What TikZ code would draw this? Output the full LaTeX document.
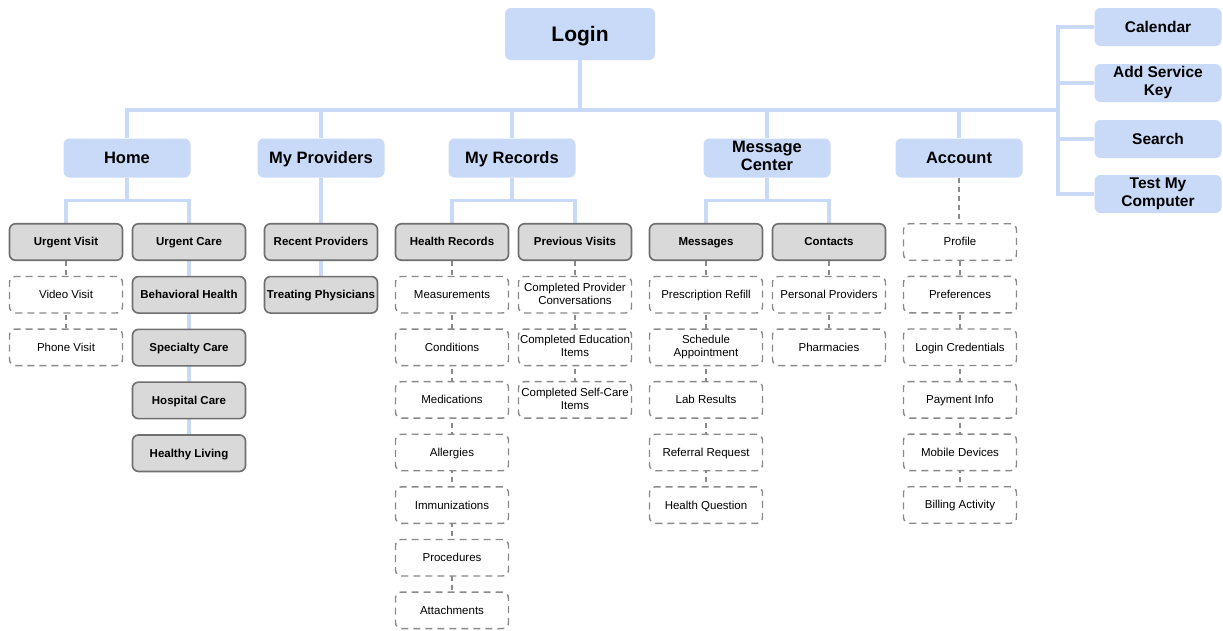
\documentclass[tikz,border=0pt]{standalone}
\usepackage{fontspec}
\setmainfont{Liberation Sans}
\usetikzlibrary{positioning, backgrounds, calc}
\definecolor{navblue}{HTML}{C9DAF8}
\definecolor{boxgray}{HTML}{D9D9D9}
\definecolor{edgegray}{HTML}{6F6F6F}
\definecolor{dashgray}{HTML}{8A8A8A}
% strut that keeps capitals centred in the boxes
\newcommand{\boxstrut}{\vrule width 0pt height 0.9em depth 0.22em\relax}
\tikzset{
    centred/.style={execute at begin node=\boxstrut, execute at end node=\boxstrut},
    mainbox/.style={rectangle, rounded corners=6pt, fill=navblue, draw=none, minimum height=39pt, minimum width=127pt, inner sep=1pt, align=center, centred, font=\bfseries\fontsize{16.5}{18}\selectfont},
    sidebox/.style={mainbox, minimum height=38pt, font=\bfseries\fontsize{15.5}{18}\selectfont},
    pagebox/.style={rectangle, rounded corners=6pt, fill=boxgray, draw=edgegray, line width=1.6pt, minimum height=36.5pt, minimum width=113pt, inner sep=1pt, align=center, centred, font=\bfseries\fontsize{11.5}{13}\selectfont},
    subbox/.style={rectangle, rounded corners=6pt, fill=white, draw=dashgray, line width=1.4pt, dash pattern=on 7pt off 5pt, minimum height=36.5pt, minimum width=113pt, inner sep=1pt, align=center, centred, font=\fontsize{11.5}{13}\selectfont},
    link/.style={draw=navblue, line width=3.5pt},
    sublink/.style={draw=dashgray, line width=1.3pt, dash pattern=on 5pt off 4pt},
}

\begin{document}
\begin{tikzpicture}[x=1pt, y=-1pt, node distance=14.7pt]
    \useasboundingbox (0,0) rectangle (1223,630);

    % top level
    \node[mainbox, minimum width=150pt, minimum height=52pt, font=\bfseries\fontsize{21}{24}\selectfont] (login) at (580,34) {Login};
    \coordinate (rail) at (1058,110);

    \node[mainbox] (home) at (127,158) {Home};
    \node[mainbox] (providers) at (321,158) {My Providers};
    \node[mainbox] (records) at (512,158) {My Records};
    \node[mainbox] (msgcenter) at (767,158) {Message\\Center};
    \node[mainbox] (account) at (959,158) {Account};

    \node[sidebox] (calendar) at (1158,27) {Calendar};
    \node[sidebox] (servicekey) at (1158,83) {Add Service\\Key};
    \node[sidebox] (search) at (1158,139) {Search};
    \node[sidebox] (testpc) at (1158,194) {Test My\\Computer};

    % Home
    \node[pagebox] (urgentvisit) at (66,242) {Urgent Visit};
    \node[subbox, below=of urgentvisit] (videovisit) {Video Visit};
    \node[subbox, below=of videovisit] (phonevisit) {Phone Visit};
    \node[pagebox] (urgentcare) at (189,242) {Urgent Care};
    \node[pagebox, below=of urgentcare] (behavioral) {Behavioral Health};
    \node[pagebox, below=of behavioral] (specialty) {Specialty Care};
    \node[pagebox, below=of specialty] (hospital) {Hospital Care};
    \node[pagebox, below=of hospital] (healthy) {Healthy Living};

    % My Providers
    \node[pagebox] (recentprov) at (321,242) {Recent Providers};
    \node[pagebox, below=of recentprov] (treating) {Treating Physicians};

    % My Records
    \node[pagebox] (healthrec) at (452,242) {Health Records};
    \node[subbox, below=of healthrec] (measure) {Measurements};
    \node[subbox, below=of measure] (conditions) {Conditions};
    \node[subbox, below=of conditions] (medications) {Medications};
    \node[subbox, below=of medications] (allergies) {Allergies};
    \node[subbox, below=of allergies] (immun) {Immunizations};
    \node[subbox, below=of immun] (procedures) {Procedures};
    \node[subbox, below=of procedures] (attach) {Attachments};
    \node[pagebox] (prevvisits) at (575,242) {Previous Visits};
    \node[subbox, below=of prevvisits] (provconv) {Completed Provider\\Conversations};
    \node[subbox, below=of provconv] (eduitems) {Completed Education\\Items};
    \node[subbox, below=of eduitems] (selfcare) {Completed Self-Care\\Items};

    % Message Center
    \node[pagebox] (messages) at (706,242) {Messages};
    \node[subbox, below=of messages] (refill) {Prescription Refill};
    \node[subbox, below=of refill] (schedule) {Schedule\\Appointment};
    \node[subbox, below=of schedule] (labs) {Lab Results};
    \node[subbox, below=of labs] (referral) {Referral Request};
    \node[subbox, below=of referral] (question) {Health Question};
    \node[pagebox] (contacts) at (829,242) {Contacts};
    \node[subbox, below=of contacts] (personal) {Personal Providers};
    \node[subbox, below=of personal] (pharmacies) {Pharmacies};

    % Account
    \node[subbox] (profile) at (960,242) {Profile};
    \node[subbox, below=of profile] (prefs) {Preferences};
    \node[subbox, below=of prefs] (credentials) {Login Credentials};
    \node[subbox, below=of credentials] (payment) {Payment Info};
    \node[subbox, below=of payment] (mobile) {Mobile Devices};
    \node[subbox, below=of mobile] (billing) {Billing Activity};

    \begin{scope}[on background layer]
        % main bus
        \draw[link] (login) -- (login |- rail);
        \draw[link] (home.north) |- (rail);
        \draw[link] (providers.north) -- (providers |- rail);
        \draw[link] (records.north) -- (records |- rail);
        \draw[link] (msgcenter.north) -- (msgcenter |- rail);
        \draw[link] (account.north) -- (account |- rail);
        \draw[link] (calendar.west) -| (rail);
        \draw[link] (testpc.west) -| (rail);
        \draw[link] (servicekey.west) -- (servicekey.west -| rail);
        \draw[link] (search.west) -- (search.west -| rail);

        % second level
        \draw[link] (home.south) -- ($(home.south)!0.5!(home |- urgentvisit.north)$);
        \draw[link] (urgentvisit.north) |- ($(home.south)!0.5!(home |- urgentvisit.north)$) -| (urgentcare.north);
        \draw[link] (providers.south) -- (recentprov.north);
        \draw[link] (records.south) -- ($(records.south)!0.5!(records |- healthrec.north)$);
        \draw[link] (healthrec.north) |- ($(records.south)!0.5!(records |- healthrec.north)$) -| (prevvisits.north);
        \draw[link] (msgcenter.south) -- ($(msgcenter.south)!0.5!(msgcenter |- messages.north)$);
        \draw[link] (messages.north) |- ($(msgcenter.south)!0.5!(msgcenter |- messages.north)$) -| (contacts.north);
        \draw[sublink] (account.south) -- (account.south |- profile.north);

        % pages below
        \draw[link] (urgentcare) -- (healthy);
        \draw[link] (recentprov) -- (treating);
        \draw[sublink] (urgentvisit.south) -- (phonevisit.north);
        \draw[sublink] (healthrec.south) -- (attach.north);
        \draw[sublink] (prevvisits.south) -- (selfcare.north);
        \draw[sublink] (messages.south) -- (question.north);
        \draw[sublink] (contacts.south) -- (pharmacies.north);
        \draw[sublink] (profile.south) -- (billing.north);
    \end{scope}
\end{tikzpicture}
\end{document}
